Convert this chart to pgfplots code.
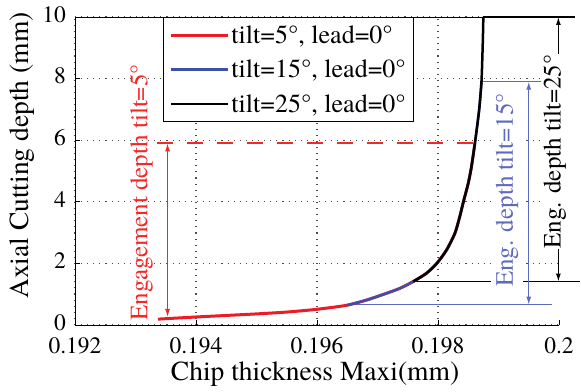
\documentclass[border=0pt]{standalone}
\usepackage{fontspec}
\setmainfont{texgyretermes}[Extension=.otf, UprightFont=*-regular, BoldFont=*-bold, ItalicFont=*-italic, BoldItalicFont=*-bolditalic]
\usepackage{pgfplots}
\usepackage{pgfplotstable}
\pgfplotsset{compat=1.18}
\usetikzlibrary{arrows.meta}
\definecolor{cred}{RGB}{237,28,36}
\definecolor{cblue}{RGB}{60,80,170}
\definecolor{ared}{RGB}{240,40,40}
\definecolor{ablue}{RGB}{95,105,190}
\pgfplotstableread{
x y
0.19337 0.19
0.19400 0.26
0.19450 0.31
0.19500 0.36
0.19550 0.42
0.19600 0.51
0.19649 0.64
0.19682 0.81
0.19715 1.03
0.19737 1.19
0.19759 1.41
0.19781 1.68
0.19798 2.00
0.19814 2.43
0.19828 2.98
0.19836 3.52
0.19842 4.00
0.19850 4.60
0.19855 5.10
0.19861 5.90
}\tiltfive
\pgfplotstableread{
x y
0.19649 0.64
0.19682 0.81
0.19715 1.03
0.19737 1.19
0.19759 1.41
0.19781 1.68
0.19798 2.00
0.19814 2.43
0.19828 2.98
0.19836 3.52
0.19842 4.00
0.19850 4.60
0.19855 5.10
0.19861 5.90
0.19868 6.98
0.19872 7.90
}\tiltfifteen
\pgfplotstableread{
x y
0.19759 1.41
0.19781 1.68
0.19798 2.00
0.19814 2.43
0.19828 2.98
0.19836 3.52
0.19842 4.00
0.19850 4.60
0.19855 5.10
0.19861 5.90
0.19868 6.98
0.19872 7.95
0.19874 9.15
0.19875 10.00
}\tilttwentyfive
\begin{document}
\begin{tikzpicture}
\begin{axis}[
  scale only axis, width=484bp, height=308bp,
  xmin=0.192, xmax=0.2, ymin=0, ymax=10,
  xtick={0.192,0.194,0.196,0.198},
  xticklabels={0.192,0.194,0.196,0.198},
  extra x ticks={0.2}, extra x tick labels={0.2},
  extra x tick style={grid=none},
  ytick={0,2,4,6,8,10}, yticklabels={0,2,4,6,8,10},
  tick align=inside, tick pos=left, major tick length=5bp,
  tick style={black, line width=0.8bp},
  grid=major,
  major grid style={black!70, line width=1.1bp, dash pattern=on 1.1bp off 5bp},
  axis line style={draw=none},
  ticklabel style={font=\fontsize{23.5bp}{24bp}\selectfont, inner sep=0.5bp},
  xticklabel style={yshift=-12bp},
  yticklabel style={xshift=-8.5bp, yshift=2.5bp},
  xlabel={Chip thickness Maxi(mm)},
  ylabel={Axial Cutting depth (mm)},
  every axis x label/.style={at={(axis description cs:0.496,-0.158)}, anchor=center, font=\fontsize{27.5bp}{30bp}\selectfont},
  every axis y label/.style={at={(axis description cs:-0.1095,0.55)}, anchor=center, rotate=90, font=\fontsize{27.5bp}{30bp}\selectfont},
  clip=false,
  legend style={at={(axis description cs:0.182,1)}, anchor=north west, draw=black, line width=0.8bp,
    font=\fontsize{26bp}{28bp}\selectfont, inner xsep=6bp, inner ysep=6bp, row sep=11bp,
    cells={anchor=west}},
  legend image code/.code={\draw[#1] (0bp,0bp) -- (57bp,0bp);},
]
\coordinate (sw) at (rel axis cs:0,0);
% black annotation
\draw[black, line width=1.2bp] (axis cs:0.19875,10) -- (axis cs:0.20026,10);
\draw[black, line width=1.2bp] (axis cs:0.19759,1.41) -- (axis cs:0.20035,1.41);
\draw[black, line width=1.2bp, {Latex[length=8bp,width=5bp]}-{Latex[length=8bp,width=5bp]}] (axis cs:0.19999,1.41) -- (axis cs:0.19999,10);
\node[black, rotate=90, fill=white, inner xsep=1bp, inner ysep=2bp, font=\fontsize{25bp}{27bp}\selectfont] at (axis cs:0.19993,5.63) {Eng. depth tilt=25°};
% blue annotation
\draw[ablue, line width=1.2bp] (axis cs:0.19872,7.9) -- (axis cs:0.19971,7.9);
\draw[ablue, line width=1.2bp] (axis cs:0.19649,0.66) -- (axis cs:0.19988,0.66);
\node[ablue, rotate=90, fill=white, inner xsep=1bp, inner ysep=5bp, font=\fontsize{25bp}{27bp}\selectfont] at (axis cs:0.19914,4.38) {Eng. depth tilt=15°};
\draw[ablue, line width=1.2bp, {Latex[length=8bp,width=5bp]}-{Latex[length=8bp,width=5bp]}] (axis cs:0.1995,0.66) -- (axis cs:0.1995,7.9);
% red annotation
\draw[color=ared, line width=1.6bp, dash pattern=on 16bp off 14bp] (axis cs:0.19335,5.9) -- (axis cs:0.19861,5.9);
\draw[ared, line width=1.2bp, {Latex[length=8bp,width=5bp]}-{Latex[length=8bp,width=5bp]}] (axis cs:0.19353,0.26) -- (axis cs:0.19353,5.9);
\node[ared, rotate=90, font=\fontsize{25bp}{27bp}\selectfont] at (axis cs:0.19310,4.30) {Engagement depth tilt=5°};
% curves
\addplot[cred, line width=3bp, smooth, tension=0.4, line join=round] table[x=x,y=y] {\tiltfive};
\addlegendentry{tilt=5°, lead=0°}
\addplot[cblue, line width=2.5bp, smooth, tension=0.4, line join=round] table[x=x,y=y] {\tiltfifteen};
\addlegendentry{tilt=15°, lead=0°}
\addplot[black, line width=2.5bp, smooth, tension=0.4, line join=round] table[x=x,y=y] {\tilttwentyfive};
\addlegendentry{tilt=25°, lead=0°}
% axis box (no right spine)
\draw[black, line width=0.9bp] (rel axis cs:1,0) -- (rel axis cs:0,0) -- (rel axis cs:0,1) -- (rel axis cs:1,1);
\end{axis}
\pgfresetboundingbox
\path ([shift={(-75bp,-67bp)}]sw) rectangle ++(581bp,392bp);
\end{tikzpicture}
\end{document}
